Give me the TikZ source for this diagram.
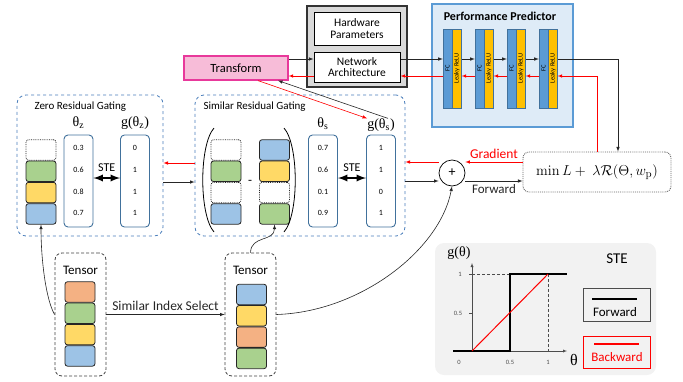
\documentclass[tikz,border=0pt]{standalone}
\usepackage[no-math]{fontspec}
\setmainfont{Carlito}
\newfontfamily\grk{Liberation Serif}
\usetikzlibrary{arrows,calc,positioning,shapes.geometric}

\definecolor{cblue}{HTML}{9DC3E6}
\definecolor{cgreen}{HTML}{A9D18E}
\definecolor{cyellow}{HTML}{FFD966}
\definecolor{corange}{HTML}{F4B183}
\definecolor{fcblue}{HTML}{5B9BD5}
\definecolor{fcedge}{HTML}{41719C}
\definecolor{relu}{HTML}{FFC000}
\definecolor{predfill}{HTML}{DEEBF7}
\definecolor{gateedge}{HTML}{4A7EBB}
\definecolor{tfill}{HTML}{F7BCD8}
\definecolor{tedge}{HTML}{E8399B}
\definecolor{hwfill}{HTML}{D9D9D9}
\definecolor{panel}{HTML}{F2F2F2}

\newcommand{\fs}[1]{\fontsize{#1}{#1}\selectfont}

\tikzset{%
	cell/.style     = {draw=black!85, rounded corners=2.5pt, line width=0.8pt, minimum width=30pt, minimum height=20.5pt, inner sep=0pt}, % tensor entry
	hole/.style     = {cell, densely dotted, fill=white}, % zeroed entry
	gate/.style     = {draw=gateedge, dashed, line width=0.8pt, rounded corners=9pt, minimum width=146pt, minimum height=141pt},
	theta/.style    = {draw=fcedge, line width=0.9pt, rounded corners=4pt, fill=white, minimum width=29pt, minimum height=92pt},
	val/.style      = {font=\fs{8}, inner sep=0pt},
	glabel/.style   = {font=\grk\fs{14}, inner sep=0pt},
	tensor/.style   = {draw=black!75, densely dashed, line width=0.8pt, rounded corners=7pt, minimum width=51pt, minimum height=123pt},
	fc/.style       = {draw=fcedge, fill=fcblue, minimum width=9pt, minimum height=79pt, inner sep=0pt},
	act/.style      = {draw=fcedge, fill=relu, minimum width=9pt, minimum height=79pt, inner sep=0pt},
	plain/.style    = {draw, line width=1pt, fill=white, minimum width=86pt, align=center, font=\fs{11.5}, inner sep=1pt},
	tick/.style     = {font=\fs{6.5}, text=black!70, inner sep=0pt},
	fwd/.style      = {-latex, black!85, line width=0.6pt},
	bwd/.style      = {-latex, red, line width=0.6pt},
	ste/.style      = {latex-latex, line width=2.2pt},
}

\begin{document}
\begin{tikzpicture}[x=1pt,y=-1pt]
	\useasboundingbox (0,0) rectangle (683,381);

	% hardware and network description
	\node[draw=black!80, line width=1.5pt, fill=hwfill, minimum width=100pt, minimum height=81pt] (hwbox) at (357,46.5) {};
	\node[plain, minimum height=33pt] (hw) at (357,28.5) {Hardware\\Parameters};
	\node[plain, minimum height=30pt] (net) at (357,67) {Network\\Architecture};
	\node[draw=tedge, line width=1.2pt, fill=tfill, minimum width=104pt, minimum height=24pt, font=\fs{12.5}] (transform) at (236,68) {Transform};

	% predictor
	\node[draw=fcblue, line width=1.2pt, fill=predfill, minimum width=141pt, minimum height=123pt] (pred) at (502.5,65.5) {};
	\node[font=\bfseries\fs{12}] (predlbl) at (500,16) {Performance Predictor};
	\foreach \i in {1,...,4} {
		\node[fc] (fc\i) at (415.5+32*\i,68.5) {};
		\node[act, right=0pt of fc\i] (relu\i) {};
		\node[rotate=90, font=\fs{6.5}] (fct\i) at (fc\i) {FC};
		\node[rotate=90, font=\fs{6.5}] (relut\i) at (relu\i) {Leaky ReLU};
	}

	\draw[fwd] (transform.east |- 0,59) -- (net.west |- 0,59);
	\draw[bwd] (net.west |- 0,76) -- (transform.east |- 0,76);
	\draw[fwd] (net.east |- 0,59) -- (fc1.west |- 0,59);
	\draw[bwd] (fc1.west |- 0,76) -- (net.east |- 0,76);
	\foreach \i/\j in {1/2,2/3,3/4} {
		\draw[fwd] (relu\i.east |- 0,59) -- (fc\j.west |- 0,59);
		\draw[bwd] (fc\j.west |- 0,76) -- (relu\i.east |- 0,76);
	}

	% objective
	\node[draw=black!60, densely dotted, line width=0.9pt, rounded corners=6pt, minimum width=148pt, minimum height=40pt, font=\fs{15}] (loss) at (597,172) {$\min L +\ \lambda\mathcal{R}(\Theta, w_{\mathrm{p}})$};
	\draw[fwd] (relu4.east |- 0,59) -| ($(loss.north)+(21,0)$);
	\draw[bwd] (loss.north) |- (relu4.east |- 0,76);

	\node[draw, circle, line width=0.7pt, minimum size=26pt, inner sep=0pt, font=\fs{14}] (plus) at (452,173) {+};

	% gating blocks
	\node[gate] (zgate) at (90,165.5) {};
	\node[font=\fs{11}, anchor=west] (zlbl) at (31,107) {Zero Residual Gating};
	\node[gate, minimum width=210pt] (sgate) at (300,165.5) {};
	\node[font=\fs{11}, anchor=west] (slbl) at (200,107) {Similar Residual Gating};

	\node[hole] (z1) at (41,150) {};
	\node[cell, fill=cgreen, below=0pt of z1] (z2) {};
	\node[cell, fill=cyellow, below=0pt of z2] (z3) {};
	\node[cell, fill=cblue, below=0pt of z3] (z4) {};

	\node[hole] (s1) at (226,150) {};
	\node[cell, fill=cgreen, below=0pt of s1] (s2) {};
	\node[hole, below=0pt of s2] (s3) {};
	\node[cell, fill=cblue, below=0pt of s3] (s4) {};

	\node[cell, fill=cblue] (r1) at (274.5,150) {};
	\node[cell, fill=cyellow, below=0pt of r1] (r2) {};
	\node[hole, below=0pt of r2] (r3) {};
	\node[cell, fill=cgreen, below=0pt of r3] (r4) {};

	\node[font=\fs{13}] (minus) at (250,182) {-};
	\draw[line width=0.8pt] (214,128) .. controls (199,145) and (199,215) .. (214,232);
	\draw[line width=0.8pt] (284,128) .. controls (299,145) and (299,215) .. (284,232);

	\node[theta] (thz) at (78.5,181) {};
	\node[theta] (gz) at (135,181) {};
	\node[theta] (ths) at (323,181) {};
	\node[theta] (gs) at (381,181) {};
	\foreach \v [count=\i] in {0.3,0.6,0.8,0.7} \node[val] (thzv\i) at (78.5,126.5+21.7*\i) {\v};
	\foreach \v [count=\i] in {0,1,1,1} \node[val] (gzv\i) at (135,126.5+21.7*\i) {\v};
	\foreach \v [count=\i] in {0.7,0.6,0.1,0.9} \node[val] (thsv\i) at (323,126.5+21.7*\i) {\v};
	\foreach \v [count=\i] in {1,1,0,1} \node[val] (gsv\i) at (381,126.5+21.7*\i) {\v};

	\node[glabel] (thzlbl) at (78.5,123) {θ\textsubscript{z}};
	\node[glabel] (gzlbl) at (135,123) {g(θ\textsubscript{z})};
	\node[glabel] (thslbl) at (323,124) {θ\textsubscript{s}};
	\node[glabel] (gslbl) at (381,125) {g(θ\textsubscript{s})};

	\draw[ste] ($(thz.east)+(0,-3)$) -- ($(gz.west)+(0,-3)$) node[midway, above=2pt, font=\fs{12}] {STE};
	\draw[ste] ($(ths.east)+(0,-3)$) -- ($(gs.west)+(0,-3)$) node[midway, above=2pt, font=\fs{12}] {STE};

	\draw[bwd] (sgate.west |- 0,163) -- (zgate.east |- 0,163);
	\draw[fwd] (zgate.east |- 0,182) -- (sgate.west |- 0,182);
	\draw[bwd] (plus.west |- 0,162) -- (sgate.east |- 0,162);
	\draw[fwd] (sgate.east |- 0,181) -- (plus.west |- 0,181);
	\draw[bwd] (loss.west |- 0,162) -- (plus.east |- 0,162) node[midway, above, text=red, font=\fs{13.5}] {Gradient};
	\draw[fwd] (plus.east |- 0,181) -- (loss.west |- 0,181) node[midway, below, font=\fs{13}] {Forward};

	\draw[bwd] ($(transform.south)+(22,0)$) -- (gslbl.north west);
	\draw[fwd] ($(gslbl.north)+(7,0)$) -- ($(transform.south)+(42,0)$);

	% tensors
	\node[tensor] (ten1) at (80.5,314.5) {};
	\node[font=\fs{13}] (ten1lbl) at (80.5,270) {Tensor};
	\node[cell, fill=corange] (t1) at (80,292) {};
	\node[cell, fill=cgreen, below=0pt of t1] (t2) {};
	\node[cell, fill=cyellow, below=0pt of t2] (t3) {};
	\node[cell, fill=cblue, below=0pt of t3] (t4) {};

	\node[tensor] (ten2) at (250.5,314.5) {};
	\node[font=\fs{13}] (ten2lbl) at (250.5,270) {Tensor};
	\node[cell, fill=cblue] (u1) at (251.5,294.5) {};
	\node[cell, fill=cyellow, below=0pt of u1] (u2) {};
	\node[cell, fill=corange, below=0pt of u2] (u3) {};
	\node[cell, fill=cgreen, below=0pt of u3] (u4) {};

	\draw[fwd] (ten1.east) -- (ten2.west) node[midway, above, font=\fs{13.5}] {Similar Index Select};

	% STE panel
	\node[fill=panel, rounded corners=9pt, minimum width=221pt, minimum height=132pt] (stepanel) at (545.5,309) {};
	\node[font=\fs{15}] (stelbl) at (617,259) {STE};
	\draw[-latex, black!70] (472,351) -- (472,263);
	\draw[-latex, black!70] (472,351) -- (567,351);
	\draw[densely dashed, black!70] (472,274) -- (510,274);
	\draw[densely dashed, black!70] (548,274) -- (548,351);
	\draw[black!70] (469,274) -- (472,274) (469,313) -- (472,313);
	\draw[line width=1.5pt] (453,351) -- (510,351) -- (510,274) -- (567,274);
	\draw[red, line width=1pt] (472,351) -- (548,274);
	\node[tick] (tx0) at (459,362) {0};
	\node[tick] (tx1) at (510,362) {0.5};
	\node[tick] (tx2) at (548,362) {1};
	\node[tick] (ty1) at (460,274) {1};
	\node[tick] (ty2) at (458,313) {0.5};
	\node[font=\grk\fs{14}] (ylbl) at (459,253) {g(θ)};
	\node[font=\grk\fs{16}] (xlbl) at (574,360) {θ};

	\node[draw=black!70, line width=0.8pt, minimum width=67pt, minimum height=33pt] (fwdleg) at (616.5,304.5) {};
	\node[font=\fs{13}] (fwdtxt) at (615,312) {Forward};
	\draw[line width=1.2pt] (592,299) -- (637,299);
	\node[draw=red, line width=0.8pt, minimum width=67pt, minimum height=32pt] (bwdleg) at (616.5,352) {};
	\node[font=\fs{13}, text=red] (bwdtxt) at (617,357) {Backward};
	\draw[red, line width=1.2pt] (594,344) -- (639,344);

	% tensor links
	\draw[fwd] (ten1.west) .. controls (46,300) and (41,260) .. (z4.south);
	\draw[fwd] (ten2.north) .. controls (251,235) and (274.5,242) .. (r4.south);
	\draw[fwd] (ten2.east) .. controls (360,312) and (440,250) .. (plus.south);
\end{tikzpicture}
\end{document}
